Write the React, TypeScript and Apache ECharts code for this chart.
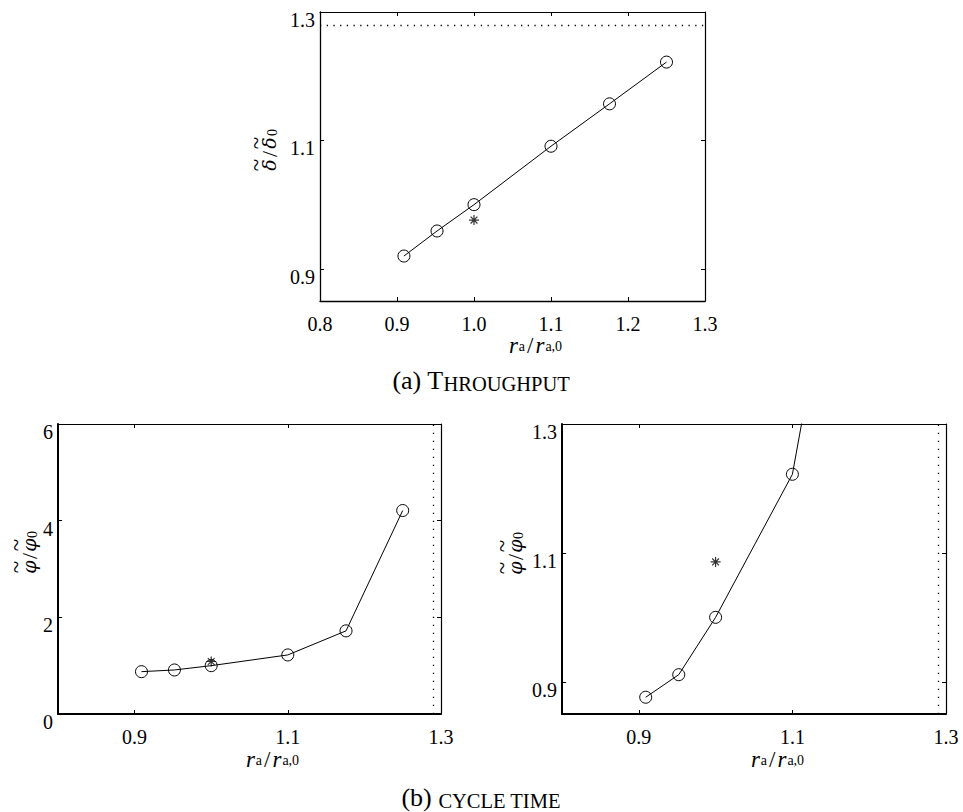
import React, { useEffect, useRef } from "react";
import * as echarts from "echarts";

// ---- data ----
const ratio = [0.909, 0.952, 1.0, 1.1, 1.176, 1.25];
const throughput = [0.92, 0.959, 1.0, 1.091, 1.157, 1.222];
const cycleTime = [0.876, 0.911, 1.0, 1.222, 1.72, 4.21];
const throughputStar = [[1.0, 0.976]];
const cycleStar = [[1.0, 1.086]];
const throughputLimit = 1.276;
const ratioLimit = 1.29;

const xRange = [0.8, 1.3];
const xInterval = 0.1;
const xTicksSparse = [0.9, 1.1, 1.3];
const yRangeNarrow = [0.85, 1.3];
const yTicksNarrow = [0.9, 1.1, 1.3];
const yRangeWide = [0, 6];
const yIntervalWide = 2;

const FONT = "'Liberation Serif', 'Times New Roman', serif";
const GREEK = "'DejaVu Serif', serif";
const BLACK = "#000";

const STAR = "path://M5 0L5 10M0 5L10 5M1.6 1.6L8.4 8.4M1.6 8.4L8.4 1.6";

function xPair(grid: number, lw: number, custom?: number[]) {
  const base: any = {
    type: "value",
    gridIndex: grid,
    min: xRange[0],
    max: xRange[1],
    splitLine: { show: false },
  };
  if (!custom) base.interval = xInterval;
  const tick: any = { show: true, inside: true, length: 4, lineStyle: { color: BLACK, width: 1 } };
  if (custom) tick.customValues = custom;
  const label: any = {
    show: true,
    margin: 15,
    color: BLACK,
    fontFamily: FONT,
    fontSize: 20,
    lineHeight: 16,
    formatter: (v: number) => v.toFixed(1),
  };
  if (custom) label.customValues = custom;
  return [
    { ...base, position: "bottom", axisLine: { show: true, onZero: false, lineStyle: { color: BLACK, width: lw } }, axisTick: tick, axisLabel: label },
    { ...base, position: "top", axisLine: { show: true, onZero: false, lineStyle: { color: BLACK, width: 1.2 } }, axisTick: tick, axisLabel: { show: false } },
  ];
}

function yPair(grid: number, lw: number, range: number[], opts: { custom?: number[]; interval?: number; digits: number }) {
  const base: any = {
    type: "value",
    gridIndex: grid,
    min: range[0],
    max: range[1],
    splitLine: { show: false },
  };
  if (opts.interval) base.interval = opts.interval;
  const tick: any = { show: true, inside: true, length: 4, lineStyle: { color: BLACK, width: 1 } };
  if (opts.custom) tick.customValues = opts.custom;
  const label: any = {
    show: true,
    margin: 5,
    color: BLACK,
    fontFamily: FONT,
    fontSize: 20,
    verticalAlign: "top",
    lineHeight: 16,
    formatter: (v: number) => v.toFixed(opts.digits),
  };
  if (opts.custom) label.customValues = opts.custom;
  return [
    { ...base, position: "left", axisLine: { show: true, onZero: false, lineStyle: { color: BLACK, width: lw } }, axisTick: tick, axisLabel: label },
    { ...base, position: "right", axisLine: { show: true, onZero: false, lineStyle: { color: BLACK, width: 1.2 } }, axisTick: tick, axisLabel: { show: false } },
  ];
}

function lineSeries(axis: number, ys: number[], limit: any, dash: number[]) {
  return {
    type: "line",
    xAxisIndex: axis,
    yAxisIndex: axis,
    data: ratio.map((x, i) => [x, ys[i]]),
    symbol: "circle",
    symbolSize: 12,
    clip: true,
    itemStyle: { color: "rgba(0,0,0,0)", borderColor: BLACK, borderWidth: 1 },
    lineStyle: { color: BLACK, width: 1 },
    emphasis: { disabled: true },
    markLine: {
      silent: true,
      symbol: "none",
      label: { show: false },
      lineStyle: { color: BLACK, width: 1.3, type: dash },
      emphasis: { disabled: true },
      data: [limit],
    },
    z: 3,
  };
}

function starSeries(axis: number, pts: number[][]) {
  return {
    type: "scatter",
    xAxisIndex: axis,
    yAxisIndex: axis,
    data: pts,
    symbol: STAR,
    symbolSize: 10,
    itemStyle: { color: "rgba(0,0,0,0)", borderColor: BLACK, borderWidth: 1.2 },
    emphasis: { disabled: true },
    z: 4,
  };
}

const xName = "{i|r}{s|a}{n|/}{i|r}{s|a,0}";
const xNameRich = {
  i: { fontFamily: FONT, fontStyle: "italic", fontSize: 23, lineHeight: 16, padding: [0, 1, 0, 1], color: BLACK },
  s: { fontFamily: FONT, fontSize: 14, lineHeight: 7, verticalAlign: "bottom", color: BLACK },
  n: { fontFamily: FONT, fontSize: 23, lineHeight: 16, padding: [0, 1, 0, 2], color: BLACK },
};
// two-line label: tildes above the Greek letters
const yRich = {
  t: { fontFamily: FONT, fontSize: 23, lineHeight: 6, width: 13, align: "center", color: BLACK },
  tb: { fontFamily: FONT, fontSize: 18, lineHeight: 6, width: 9, align: "center", color: BLACK },
  sb: { fontFamily: FONT, fontSize: 18, lineHeight: 6, width: 8, align: "center", color: BLACK },
  g: { fontFamily: GREEK, fontStyle: "italic", fontSize: 19, lineHeight: 20, width: 13, align: "center", color: BLACK },
  n: { fontFamily: FONT, fontSize: 22, lineHeight: 20, width: 9, align: "center", color: BLACK },
  s: { fontFamily: FONT, fontSize: 14, lineHeight: 9, width: 8, align: "left", verticalAlign: "bottom", color: BLACK },
};
const yLabel = (g: string) => `{t|~}{tb| }{t|~}{sb| }\n{g|${g}}{n|/}{g|${g}}{s|0}`;
const capRich = {
  b: { fontFamily: FONT, fontSize: 26, lineHeight: 28, color: BLACK },
  c: { fontFamily: FONT, fontSize: 20.5, lineHeight: 28, verticalAlign: "bottom", color: BLACK },
};

function txt(x: number, y: number, text: string, rich: any, rotation = 0) {
  return {
    type: "text",
    x,
    y,
    rotation,
    silent: true,
    style: { text, rich, align: "center", verticalAlign: "middle" },
  };
}

export default function App() {
  const ref = useRef<HTMLDivElement>(null);
  useEffect(() => {
    if (!ref.current) return;
    const chart = echarts.init(ref.current, undefined, { renderer: "svg" });
    const option: any = {
      animation: false,
      backgroundColor: "#fff",
      textStyle: { fontFamily: FONT },
      grid: [
        { left: 320, top: 12, width: 385, height: 289 },
        { left: 58, top: 424, width: 383, height: 290 },
        { left: 562, top: 424, width: 384, height: 290 },
      ],
      xAxis: [...xPair(0, 1.3), ...xPair(1, 2, xTicksSparse), ...xPair(2, 2, xTicksSparse)],
      yAxis: [
        ...yPair(0, 1.3, yRangeNarrow, { custom: yTicksNarrow, digits: 1 }),
        ...yPair(1, 2, yRangeWide, { interval: yIntervalWide, digits: 0 }),
        ...yPair(2, 2, yRangeNarrow, { custom: yTicksNarrow, digits: 1 }),
      ],
      series: [
        lineSeries(0, throughput, { yAxis: throughputLimit }, [1.3, 5.4]),
        starSeries(0, throughputStar),
        lineSeries(2, cycleTime, { xAxis: ratioLimit }, [1.3, 6.7]),
        starSeries(2, cycleStar),
        lineSeries(4, cycleTime, { xAxis: ratioLimit }, [1.3, 6.7]),
        starSeries(4, cycleStar),
      ],
      graphic: [
        txt(535, 345, xName, xNameRich),
        txt(272, 759, xName, xNameRich),
        txt(777, 759, xName, xNameRich),
        txt(266, 150, yLabel("\u03b4"), yRich, Math.PI / 2),
        txt(26, 552, yLabel("\u03c6"), yRich, Math.PI / 2),
        txt(512, 553, yLabel("\u03c6"), yRich, Math.PI / 2),
        txt(481, 380, "{b|(a) T}{c|HROUGHPUT}", capRich),
        txt(481, 797, "{b|(b) }{c|CYCLE TIME}", capRich),
      ],
    };
    chart.setOption(option);
    return () => chart.dispose();
  }, []);
  return (
    <div
      ref={ref}
      style={{ position: "fixed", left: 0, top: 0, width: 963, height: 812, background: "#fff" }}
    />
  );
}
